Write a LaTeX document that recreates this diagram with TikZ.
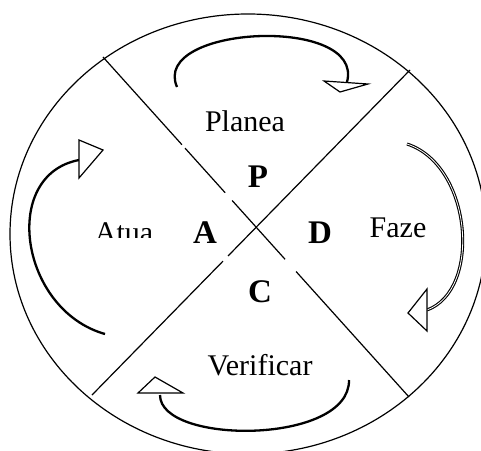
\documentclass[tikz,border=0pt]{standalone}
\usepackage{fontspec}
\setmainfont{Liberation Serif}
\usepackage{tikz}
\usetikzlibrary{calc}
\tikzset{
  ring/.style={line width=1.2pt},
  cycarrow/.style={line width=2.3pt},
  openhead/.style={line width=1.2pt, fill=white, line join=miter},
  stage/.style={font=\fontsize{30}{36}\selectfont, anchor=base},
  letter/.style={font=\fontsize{33}{40}\selectfont\bfseries, anchor=base},
}

\begin{document}
\begin{tikzpicture}[x=1pt, y=-1pt]
  \useasboundingbox (0,0) rectangle (481,450);
  \clip (0,0) rectangle (481,450);
  % Outer circle
  \draw[ring] (248,234) ellipse [x radius=238, y radius=220];
  % Ends of the cross
  \coordinate (ul) at (103,57);
  \coordinate (lr) at (409,397);
  \coordinate (ur) at (410,70);
  \coordinate (ll) at (92,395);
  % Cross, with its small breaks
  \foreach \a/\b in {0/0.258, 0.268/0.399, 0.422/0.595, 0.631/1} {
    \draw[ring] ($(ul)!\a!(lr)$) -- ($(ul)!\b!(lr)$);
  }
  \foreach \a/\b in {0/0.572, 0.588/1} {
    \draw[ring] ($(ur)!\a!(ll)$) -- ($(ur)!\b!(ll)$);
  }
  % Stage letters
  \node[letter] (p) at (258,187) {P};
  \node[letter] (a) at (205,243) {A};
  \node[letter] (d) at (320,243) {D};
  \node[letter] (c) at (260,302) {C};
  % Stage names
  \node[stage] (planea) at (245,131) {Planea};
  \node[stage] (faze) at (398,237) {Faze};
  \node[stage] (verificar) at (260,375) {Verificar};
  \begin{scope}
    \clip (80,200) rectangle (170,237);
    \node[stage] (atua) at (124,242) {Atua};
  \end{scope}
  % Top arrow
  \draw[cycarrow] (177,87) .. controls (150,25) and (365,15) .. (347,82);
  \draw[openhead] (324,81) -- (368,84) -- (340,92) -- cycle;
  % Right arrow
  \draw[line width=1.1pt, double, double distance=0.8pt]
    (407,144) .. controls (472,165) and (482,290) .. (427,310);
  \draw[openhead] (408,313) -- (427,289) -- (427,331) -- cycle;
  % Bottom arrow
  \draw[cycarrow] (349,380) .. controls (350,445) and (160,445) .. (160,395);
  \draw[openhead] (138,393) -- (155,377) -- (183,393) -- cycle;
  % Left arrow
  \draw[cycarrow] (105,334) .. controls (20,310) and (0,175) .. (79,160);
  \draw[openhead] (79,140) -- (103,150) -- (79,178) -- cycle;
\end{tikzpicture}
\end{document}
